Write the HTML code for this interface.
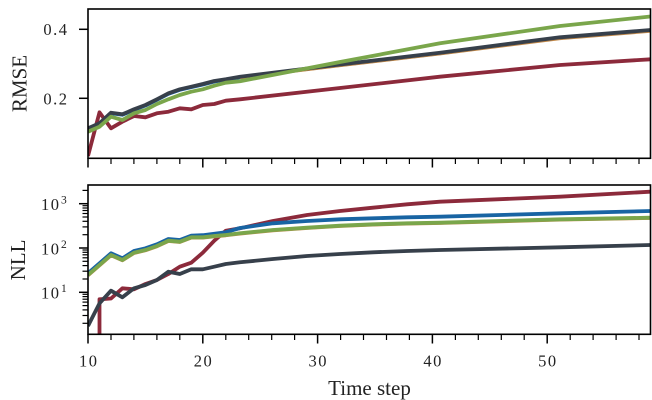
<!DOCTYPE html>
<html><head><meta charset="utf-8"><style>
html,body{margin:0;padding:0;background:#fff;}
svg{display:block;}
text{font-family:"Liberation Serif","DejaVu Serif",serif;fill:#222;}
</style></head><body>
<svg width="652" height="400" viewBox="0 0 652 400" xmlns="http://www.w3.org/2000/svg">
<defs>
<clipPath id="c1"><rect x="88" y="9" width="562.5" height="149.3"/></clipPath>
<clipPath id="c2"><rect x="88" y="185" width="562.5" height="149.3"/></clipPath>
</defs>
<rect width="652" height="400" fill="#fff"/>

<!-- TOP PANEL series -->
<g clip-path="url(#c1)" fill="none" stroke-width="3.8" stroke-linejoin="round" stroke-linecap="butt">
<polyline stroke="#8c2a3b" points="88,156 99.5,112.3 111,128.3 122.4,121.7 134,116 145.4,117.3 156.9,113.3 168.4,111.7 179.8,108.3 191.3,109.3 202.8,105 214.3,104 225.8,100.7 240,99.3 340,88 440,76.7 560,65 650.5,59.3"/>
<polyline stroke="#1864a3" points="88,128.8 99.5,123.8 111,113.2 122.4,114.8 134,109.8 145.4,105.5 156.9,99.8 168.4,93.8 179.8,89.8 191.3,87.2 202.8,84.5 214.3,81.5 225.8,79.8 240,77.2 340,65 440,53.2 560,37.8 650.5,30.5"/>
<polyline stroke="#c48a4a" points="240,77.4 340,65.3 440,53.5 560,38.2 650.5,30.9"/>
<polyline stroke="#37404b" points="88,128.3 99.5,123.3 111,112.7 122.4,114.3 134,109.3 145.4,105 156.9,99.3 168.4,93.3 179.8,89.3 191.3,86.7 202.8,84 214.3,81 225.8,79.3 240,76.7 340,64.5 440,52.7 560,37.3 650.5,30"/>
<polyline stroke="#7aa64b" points="88,131.7 99.5,126.7 111,116.7 122.4,120 134,113.3 145.4,110 156.9,104 168.4,99.3 179.8,95 191.3,91.7 202.8,89.3 214.3,85.7 225.8,82.7 240,81.2 340,62 440,43.3 560,26 650.5,16.5"/>
</g>

<!-- BOTTOM PANEL series -->
<g clip-path="url(#c2)" fill="none" stroke-width="3.8" stroke-linejoin="round" stroke-linecap="butt">
<polyline stroke="#8c2a3b" points="99.5,345 99.5,299.3 111,298.5 122.4,288.3 134,289.3 145.4,284 156.9,280 168.4,274 179.8,266.7 191.3,262.7 202.8,252.7 214.3,240.7 225.8,230.7 240,228.3 273,221 307,215 340,211 373,207.7 407,204.3 440,201.7 560,196.7 650.5,191.7"/>
<polyline stroke="#1864a3" points="88,273.3 99.5,263.3 111,253.3 122.4,258.3 134,251 145.4,248.3 156.9,244.3 168.4,239 179.8,240 191.3,235.6 202.8,235.2 214.3,233.8 225.8,232.2 240,228 273,223.3 307,221 340,219.3 373,218.3 407,217.3 440,216.7 560,213.3 650.5,211"/>
<polyline stroke="#c48a4a" points="88,275.3 99.5,265.3 111,255.3 122.4,260.3 134,253 145.4,250.3 156.9,246.3 168.4,241 179.8,242 191.3,237.6 202.8,237.6 214.3,236.3 225.8,235.3 240,233.6 273,230.3 307,228 340,226 373,224.6 407,223.6 440,223 560,219.6 650.5,218"/>
<polyline stroke="#7aa64b" points="88,275 99.5,265 111,255 122.4,260 134,252.7 145.4,250 156.9,246 168.4,240.7 179.8,241.7 191.3,237.3 202.8,237.3 214.3,236 225.8,235 240,233.3 273,230 307,227.7 340,225.7 373,224.3 407,223.3 440,222.7 560,219.3 650.5,217.7"/>
<polyline stroke="#37404b" points="88,326 99.5,303.3 111,290.7 122.4,297.3 134,288.3 145.4,285 156.9,280 168.4,271.7 179.8,274 191.3,269.3 202.8,269.3 214.3,266.7 225.8,264 240,262.3 273,259 307,256 340,254 373,252.3 407,251 440,250 560,247.3 650.5,245"/>
</g>

<!-- spines -->
<rect x="88" y="9" width="562.5" height="149.3" fill="none" stroke="#000" stroke-width="1.6"/>
<rect x="88" y="185" width="562.5" height="149.3" fill="none" stroke="#000" stroke-width="1.6"/>

<!-- x ticks both panels -->
<g stroke="#000" stroke-width="1.5">
<line x1="88" y1="158.3" x2="88" y2="167.5"/>
<line x1="202.8" y1="158.3" x2="202.8" y2="167.5"/>
<line x1="317.6" y1="158.3" x2="317.6" y2="167.5"/>
<line x1="432.4" y1="158.3" x2="432.4" y2="167.5"/>
<line x1="547.2" y1="158.3" x2="547.2" y2="167.5"/>
<line x1="88" y1="334.3" x2="88" y2="343.5"/>
<line x1="202.8" y1="334.3" x2="202.8" y2="343.5"/>
<line x1="317.6" y1="334.3" x2="317.6" y2="343.5"/>
<line x1="432.4" y1="334.3" x2="432.4" y2="343.5"/>
<line x1="547.2" y1="334.3" x2="547.2" y2="343.5"/>
<line x1="79" y1="29.3" x2="88" y2="29.3"/>
<line x1="79" y1="98.3" x2="88" y2="98.3"/>
<line x1="79" y1="203.7" x2="88" y2="203.7"/>
<line x1="79" y1="248" x2="88" y2="248"/>
<line x1="79" y1="292.3" x2="88" y2="292.3"/>
</g>
<g stroke="#000" stroke-width="1.2">
<line x1="111" y1="158.3" x2="111" y2="164"/><line x1="133.9" y1="158.3" x2="133.9" y2="164"/><line x1="156.9" y1="158.3" x2="156.9" y2="164"/><line x1="179.8" y1="158.3" x2="179.8" y2="164"/>
<line x1="225.8" y1="158.3" x2="225.8" y2="164"/><line x1="248.7" y1="158.3" x2="248.7" y2="164"/><line x1="271.7" y1="158.3" x2="271.7" y2="164"/><line x1="294.6" y1="158.3" x2="294.6" y2="164"/>
<line x1="340.6" y1="158.3" x2="340.6" y2="164"/><line x1="363.5" y1="158.3" x2="363.5" y2="164"/><line x1="386.5" y1="158.3" x2="386.5" y2="164"/><line x1="409.4" y1="158.3" x2="409.4" y2="164"/>
<line x1="455.4" y1="158.3" x2="455.4" y2="164"/><line x1="478.3" y1="158.3" x2="478.3" y2="164"/><line x1="501.3" y1="158.3" x2="501.3" y2="164"/><line x1="524.2" y1="158.3" x2="524.2" y2="164"/>
<line x1="570.2" y1="158.3" x2="570.2" y2="164"/><line x1="593.1" y1="158.3" x2="593.1" y2="164"/><line x1="616.1" y1="158.3" x2="616.1" y2="164"/><line x1="639" y1="158.3" x2="639" y2="164"/>
<line x1="111" y1="334.3" x2="111" y2="340"/><line x1="133.9" y1="334.3" x2="133.9" y2="340"/><line x1="156.9" y1="334.3" x2="156.9" y2="340"/><line x1="179.8" y1="334.3" x2="179.8" y2="340"/>
<line x1="225.8" y1="334.3" x2="225.8" y2="340"/><line x1="248.7" y1="334.3" x2="248.7" y2="340"/><line x1="271.7" y1="334.3" x2="271.7" y2="340"/><line x1="294.6" y1="334.3" x2="294.6" y2="340"/>
<line x1="340.6" y1="334.3" x2="340.6" y2="340"/><line x1="363.5" y1="334.3" x2="363.5" y2="340"/><line x1="386.5" y1="334.3" x2="386.5" y2="340"/><line x1="409.4" y1="334.3" x2="409.4" y2="340"/>
<line x1="455.4" y1="334.3" x2="455.4" y2="340"/><line x1="478.3" y1="334.3" x2="478.3" y2="340"/><line x1="501.3" y1="334.3" x2="501.3" y2="340"/><line x1="524.2" y1="334.3" x2="524.2" y2="340"/>
<line x1="570.2" y1="334.3" x2="570.2" y2="340"/><line x1="593.1" y1="334.3" x2="593.1" y2="340"/><line x1="616.1" y1="334.3" x2="616.1" y2="340"/><line x1="639" y1="334.3" x2="639" y2="340"/>
<line x1="82.5" y1="190.4" x2="88" y2="190.4"/>
<line x1="82.5" y1="234.7" x2="88" y2="234.7"/><line x1="82.5" y1="226.9" x2="88" y2="226.9"/><line x1="82.5" y1="221.3" x2="88" y2="221.3"/><line x1="82.5" y1="217" x2="88" y2="217"/><line x1="82.5" y1="213.5" x2="88" y2="213.5"/><line x1="82.5" y1="210.5" x2="88" y2="210.5"/><line x1="82.5" y1="208" x2="88" y2="208"/><line x1="82.5" y1="205.7" x2="88" y2="205.7"/>
<line x1="82.5" y1="279" x2="88" y2="279"/><line x1="82.5" y1="271.2" x2="88" y2="271.2"/><line x1="82.5" y1="265.6" x2="88" y2="265.6"/><line x1="82.5" y1="261.3" x2="88" y2="261.3"/><line x1="82.5" y1="257.8" x2="88" y2="257.8"/><line x1="82.5" y1="254.8" x2="88" y2="254.8"/><line x1="82.5" y1="252.3" x2="88" y2="252.3"/><line x1="82.5" y1="250" x2="88" y2="250"/>
<line x1="82.5" y1="323.3" x2="88" y2="323.3"/><line x1="82.5" y1="315.5" x2="88" y2="315.5"/><line x1="82.5" y1="309.9" x2="88" y2="309.9"/><line x1="82.5" y1="305.6" x2="88" y2="305.6"/><line x1="82.5" y1="302.1" x2="88" y2="302.1"/><line x1="82.5" y1="299.2" x2="88" y2="299.2"/><line x1="82.5" y1="296.6" x2="88" y2="296.6"/><line x1="82.5" y1="294.3" x2="88" y2="294.3"/>
</g>

<!-- y tick labels top -->
<text x="68.5" y="35" font-size="16.5" text-anchor="end" letter-spacing="1.5">0.4</text>
<text x="68.5" y="104.3" font-size="16.5" text-anchor="end" letter-spacing="1.5">0.2</text>

<!-- y tick labels bottom (log) -->
<text x="60.5" y="210" font-size="16.5" text-anchor="end" letter-spacing="1.5">10</text><text x="61" y="203.5" font-size="11.5">3</text>
<text x="60.5" y="254.3" font-size="16.5" text-anchor="end" letter-spacing="1.5">10</text><text x="61" y="247.8" font-size="11.5">2</text>
<text x="60.5" y="298.6" font-size="16.5" text-anchor="end" letter-spacing="1.5">10</text><text x="61" y="292.1" font-size="11.5">1</text>

<!-- x tick labels -->
<text x="88.7" y="366.7" font-size="16.5" text-anchor="middle" letter-spacing="1.5">10</text>
<text x="203.5" y="366.7" font-size="16.5" text-anchor="middle" letter-spacing="1.5">20</text>
<text x="318.3" y="366.7" font-size="16.5" text-anchor="middle" letter-spacing="1.5">30</text>
<text x="433.1" y="366.7" font-size="16.5" text-anchor="middle" letter-spacing="1.5">40</text>
<text x="547.9" y="366.7" font-size="16.5" text-anchor="middle" letter-spacing="1.5">50</text>

<!-- axis labels -->
<text x="369.5" y="395" font-size="21" text-anchor="middle">Time step</text>
<text transform="translate(26.5,83.5) rotate(-90)" font-size="21" text-anchor="middle">RMSE</text>
<text transform="translate(25,260) rotate(-90)" font-size="21" text-anchor="middle">NLL</text>
</svg>
</body></html>
